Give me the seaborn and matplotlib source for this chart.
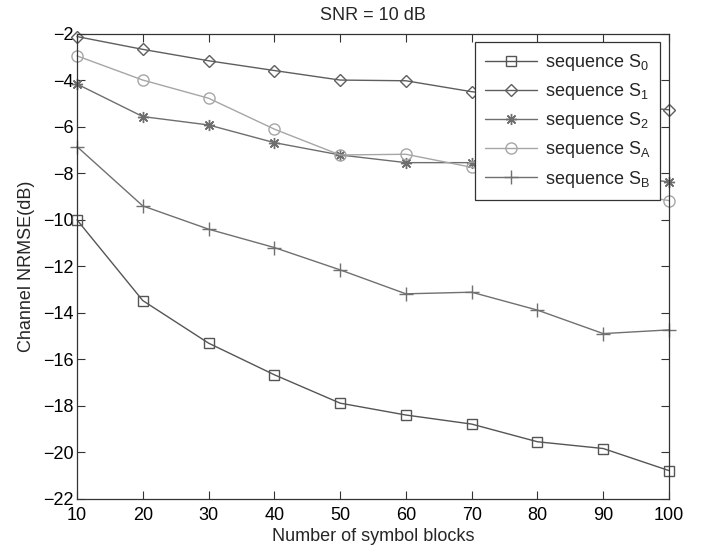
import numpy as np
import pandas as pd
import seaborn as sns
import matplotlib
matplotlib.use("Agg")
import matplotlib.pyplot as plt

blocks = [10, 20, 30, 40, 50, 60, 70, 80, 90, 100]
s0 = [-10.0, -13.47, -15.30, -16.66, -17.88, -18.39, -18.78, -19.54, -19.83, -20.78]
s1 = [-2.12, -2.67, -3.16, -3.58, -3.99, -4.02, -4.49, -4.75, -5.00, -5.27]
s2 = [-4.16, -5.56, -5.92, -6.68, -7.21, -7.54, -7.54, -7.85, -8.10, -8.36]
sa = [-2.95, -3.99, -4.77, -6.10, -7.21, -7.18, -7.74, -8.30, -8.75, -9.17]
sb = [-6.85, -9.40, -10.40, -11.19, -12.15, -13.18, -13.11, -13.88, -14.89, -14.73]

labels = [r"sequence $\mathregular{S_0}$", r"sequence $\mathregular{S_1}$",
          r"sequence $\mathregular{S_2}$", r"sequence $\mathregular{S_A}$",
          r"sequence $\mathregular{S_B}$"]
series = [s0, s1, s2, sa, sb]
colors = ["#555555", "#5e5e5e", "#6e6e6e", "#a6a6a6", "#707070"]
markers = ["s", "D", (8, 2, 0), "o", "+"]
msizes = [7, 6.5, 8, 8, 10]

x_ticks = blocks
y_ticks = list(range(-22, -1, 2))

sns.set_style("white")
plt.rcParams['font.family'] = ['Liberation Sans', 'DejaVu Sans']
plt.rcParams['mathtext.fontset'] = 'custom'
plt.rcParams['mathtext.rm'] = 'Liberation Sans'

fig = plt.figure(figsize=(7.09, 5.51), dpi=100)
ax = fig.add_axes([0.1086, 0.0944, 0.835, 0.8443])

for vals, lab, c, m, ms in zip(series, labels, colors, markers, msizes):
    df = pd.DataFrame({"blocks": blocks, "nrmse": vals})
    sns.lineplot(data=df, x="blocks", y="nrmse", ax=ax, color=c, marker=m,
                 markersize=ms, linewidth=1.0, label=lab, clip_on=False)

for line in ax.get_lines():
    c = line.get_color()
    line.set_markerfacecolor("none")
    line.set_markeredgecolor(c)
    line.set_markeredgewidth(1.0)

ax.set_xlim(10, 100)
ax.set_ylim(-22, -2)
ax.set_xticks(x_ticks)
ax.set_yticks(y_ticks)
ax.tick_params(direction="in", length=6, width=0.8, top=True, right=True,
               bottom=True, left=True, labelsize=13, colors="#333333",
               labelcolor="black")
ax.tick_params(axis="x", pad=6)
ax.tick_params(axis="y", pad=2.5)
for sp in ax.spines.values():
    sp.set_visible(True)
    sp.set_color("#333333")
    sp.set_linewidth(0.9)

ax.set_xlabel("Number of symbol blocks", fontsize=13, labelpad=3)
ax.set_ylabel("Channel NRMSE(dB)", fontsize=13, labelpad=6)
ax.set_title("SNR = 10 dB", fontsize=13, pad=10)

leg = ax.legend(loc="upper right", bbox_to_anchor=(0.985, 0.982), borderaxespad=0,
                fancybox=False, framealpha=1, edgecolor="#333333", fontsize=13,
                handlelength=2.9, handletextpad=0.4, labelspacing=0.45,
                borderpad=0.55)
leg.get_frame().set_linewidth(0.9)
leg.set_zorder(5)

fig.savefig("out.png", dpi=100)
